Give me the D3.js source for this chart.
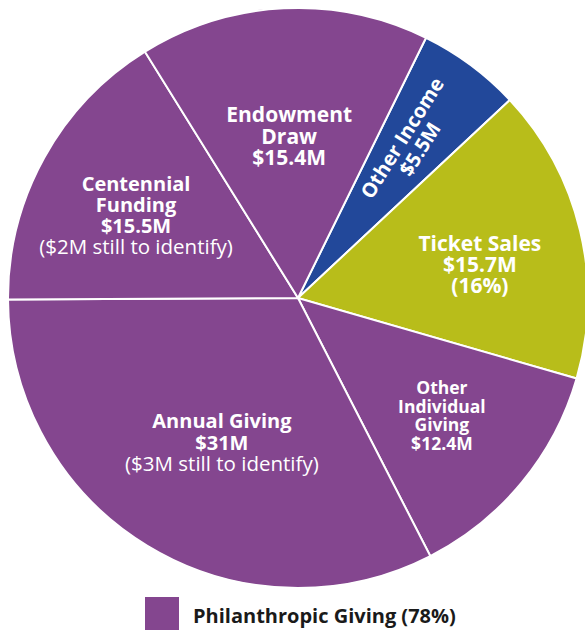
<!DOCTYPE html>
<html>
<head>
<meta charset="utf-8">
<script src="https://cdn.jsdelivr.net/npm/d3@7"></script>
<style>
  body { margin: 0; background: #fff; }
  svg { display: block; }
  text { font-family: "Open Sans", "DejaVu Sans", sans-serif; fill: #fff; }
</style>
</head>
<body>
<div id="chart"></div>
<script>
// slices, clockwise from "Other Income"
var names = ["Other Income", "Ticket Sales", "Other Individual Giving", "Annual Giving", "Centennial Funding", "Endowment Draw"];
var values = [5.5, 15.7, 12.4, 31, 15.5, 15.4];
var colors = ["#22489a", "#b8bd1a", "#84468f", "#84468f", "#84468f", "#84468f"];
// label lines: [text, bold]
var labels = [
  [["Other Income", 1], ["$5.5M", 1]],
  [["Ticket Sales", 1], ["$15.7M", 1], ["(16%)", 1]],
  [["Other", 1], ["Individual", 1], ["Giving", 1], ["$12.4M", 1]],
  [["Annual Giving", 1], ["$31M", 1], ["($3M still to identify)", 0]],
  [["Centennial", 1], ["Funding", 1], ["$15.5M", 1], ["($2M still to identify)", 0]],
  [["Endowment", 1], ["Draw", 1], ["$15.4M", 1]]
];
var legendLabel = "Philanthropic Giving (78%)";

var W = 585, H = 631;
var cx = 298, cy = 298, R = 290;
var startDeg = 26.2;
// label placement: fraction of radius, angle nudge (deg), font size, line height
var labelR = [0.66, 0.638, 0.641, 0.563, 0.627, 0.558];
var labelDA = [-0.4, 2.9, -0.2, -3.5, -1.9, -0.3];
var fontSize = [20, 21, 17.5, 20, 20, 21];
var lineH = [21, 21, 18.5, 21.5, 21, 21.5];

var svg = d3.select("#chart").append("svg")
  .attr("width", W).attr("height", H);

var pie = d3.pie().sort(null)
  .startAngle(startDeg * Math.PI / 180)
  .endAngle(startDeg * Math.PI / 180 + 2 * Math.PI);

var arcs = pie(values);
var arc = d3.arc().innerRadius(0).outerRadius(R);

var g = svg.append("g").attr("transform", "translate(" + cx + "," + cy + ")");

g.selectAll("path.slice")
  .data(arcs)
  .enter()
  .append("path")
  .attr("class", "slice")
  .attr("d", arc)
  .attr("fill", function(d, i){ return colors[i]; })
  .attr("stroke", "#fff")
  .attr("stroke-width", 2);

var lab = g.selectAll("g.lab")
  .data(arcs)
  .enter()
  .append("g")
  .attr("class", "lab")
  .attr("transform", function(d, i){
    var a = (d.startAngle + d.endAngle) / 2 + labelDA[i] * Math.PI / 180;
    var r = R * labelR[i];
    var x = Math.sin(a) * r, y = -Math.cos(a) * r;
    var t = "translate(" + x + "," + y + ")";
    if(i === 0){ t += " rotate(-58)"; } // narrow slice: text runs along the radius
    return t;
  });

lab.each(function(d, i){
  var lines = labels[i];
  var n = lines.length;
  var sel = d3.select(this);
  lines.forEach(function(l, j){
    var fs = l[1] ? fontSize[i] : fontSize[i] + 0.5;
    sel.append("text")
      .attr("text-anchor", "middle")
      .attr("y", (j - (n - 1) / 2) * lineH[i] + fontSize[i] * 0.36)
      .attr("font-size", fs)
      .attr("font-weight", l[1] ? 700 : 400)
      .text(l[0]);
  });
});

// legend
var leg = svg.append("g").attr("transform", "translate(145,597)");
leg.append("rect")
  .attr("width", 34).attr("height", 33)
  .attr("fill", "#84468f");
leg.append("text")
  .attr("x", 48).attr("y", 26)
  .attr("font-size", 20)
  .attr("font-weight", 700)
  .style("fill", "#1a1a1a")
  .text(legendLabel);
</script>
</body>
</html>
